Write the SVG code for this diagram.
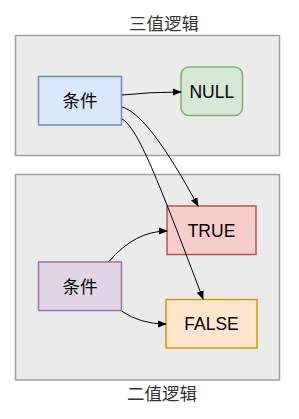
<svg xmlns="http://www.w3.org/2000/svg" width="299" height="419" viewBox="0 0 299 419">
<style>
.container{fill:#ebebeb;stroke:#a0a0a0;stroke-width:1.5}
.title{font-family:"Liberation Sans","Noto Sans CJK SC",sans-serif;font-size:17.5px;fill:#333333;text-anchor:middle;dominant-baseline:central}
.lbl{font-family:"Liberation Sans","Noto Sans CJK SC",sans-serif;font-size:17.5px;fill:#000000;text-anchor:middle;dominant-baseline:central}
.node{stroke-width:1.5}
.edge{fill:none;stroke:#000000;stroke-width:1;marker-end:url(#arrow)}
</style>
<defs>
<marker id="arrow" viewBox="0 0 10 10" refX="9" refY="5" markerWidth="9" markerHeight="9" markerUnits="userSpaceOnUse" orient="auto">
<path d="M0,1 L10,5 L0,9 Z" fill="#000000"/>
</marker>
</defs>
<g id="ternary-container">
<rect class="container" x="15.5" y="35.5" width="264" height="120"/>
<text class="title" x="164" y="23.5">三值逻辑</text>
</g>
<g id="binary-container">
<rect class="container" x="15.5" y="174.5" width="264" height="205.5"/>
<text class="title" x="162" y="393.5">二值逻辑</text>
</g>
<g id="cond-ternary">
<rect class="node" x="38.5" y="76.5" width="83" height="48.5" fill="#dae8fc" stroke="#6c8ebf"/>
<text class="lbl" x="80" y="100.5">条件</text>
</g>
<g id="null">
<rect class="node" x="181" y="67" width="61.5" height="48.5" rx="8" fill="#d5e8d4" stroke="#82b366"/>
<text class="lbl" x="211.75" y="91.5">NULL</text>
</g>
<g id="true">
<rect class="node" x="167" y="206" width="89" height="48.5" fill="#f8cecc" stroke="#b85450"/>
<text class="lbl" x="211.5" y="230.5">TRUE</text>
</g>
<g id="false">
<rect class="node" x="166" y="299.5" width="91" height="48.5" fill="#ffe6cc" stroke="#d79b00"/>
<text class="lbl" x="211.5" y="324">FALSE</text>
</g>
<g id="cond-binary">
<rect class="node" x="38.5" y="262" width="83" height="48.5" fill="#e1d5e7" stroke="#9673a6"/>
<text class="lbl" x="80" y="286.5">条件</text>
</g>
<g id="connectors">
<path class="edge" d="M122,95 Q150,92 181,92"/>
<path class="edge" d="M122,107 C140,112 165,145 198,206"/>
<path class="edge" d="M122,119 C138,128 158,180 203,299"/>
<path class="edge" d="M109,261.5 Q135,231 167,231"/>
<path class="edge" d="M121.5,311 Q140,324 166,324"/>
</g>
</svg>
